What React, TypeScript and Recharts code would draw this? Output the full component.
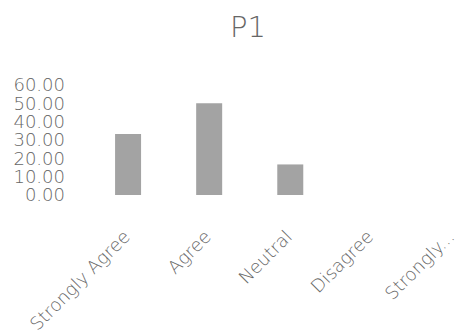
import { BarChart, Bar, XAxis, YAxis } from 'recharts';

const CATEGORIES = ['Strongly Agree', 'Agree', 'Neutral', 'Disagree', 'Strongly...'];
const VALUES = [33.33, 50, 16.67, 0, 0];
const Y_TICKS = [0, 10, 20, 30, 40, 50, 60];

const TEXT = '#666';
const FONT = '"DejaVu Sans", sans-serif';

const data = CATEGORIES.map((name, i) => ({ name, value: VALUES[i] }));

// rotated category labels, anchored at their end just below the bar
function SlantTick(props: any) {
  const { x, payload } = props;
  const tx = x + 3;
  const ty = 238;
  return (
    <text
      x={tx}
      y={ty}
      transform={`rotate(-45 ${tx} ${ty})`}
      textAnchor="end"
      fill={TEXT}
      fontSize={18}
      fontWeight={200}
      fontFamily={FONT}
    >
      {payload.value}
    </text>
  );
}

export default function App() {
  return (
    <div
      style={{
        position: 'absolute',
        left: 0,
        top: 0,
        width: 470,
        height: 336,
        overflow: 'hidden',
        background: '#fff',
      }}
    >
      <div
        style={{
          position: 'absolute',
          left: 0,
          width: 496,
          top: 9,
          textAlign: 'center',
          fontFamily: FONT,
          fontWeight: 200,
          fontSize: 29,
          color: TEXT,
          lineHeight: '36px',
        }}
      >
        P1
      </div>
      <BarChart
        width={493}
        height={336}
        data={data}
        margin={{ top: 85, right: 0, left: 0, bottom: 0 }}
        barCategoryGap="34%"
      >
        <XAxis
          dataKey="name"
          axisLine={false}
          tickLine={false}
          height={141}
          interval={0}
          tick={<SlantTick />}
        />
        <YAxis
          domain={[0, 60]}
          ticks={Y_TICKS}
          interval={0}
          width={87.5}
          axisLine={false}
          tickLine={false}
          tickMargin={16.5}
          tickFormatter={(v: number) => v.toFixed(2)}
          tick={{ fill: TEXT, fontSize: 18, fontWeight: 200, fontFamily: FONT }}
        />
        <Bar dataKey="value" fill="#a3a3a3" isAnimationActive={false} />
      </BarChart>
    </div>
  );
}
